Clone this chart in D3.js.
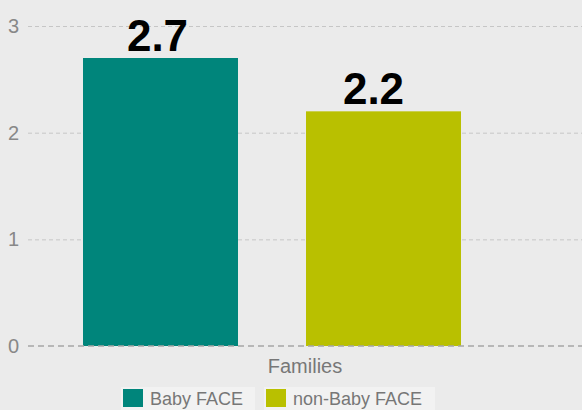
<!DOCTYPE html>
<html lang="en">
<head>
	<meta charset="utf-8">
	<title>Baby FACE vs non-Baby FACE</title>
	<script src="https://d3js.org/d3.v7.min.js"></script>
	<style>
		body { margin: 0; background: #ebebeb; font-family: "Liberation Sans", Arial, sans-serif; }
		.axis-y text { fill: #888; font-size: 20px; }
		.axis-y .domain { display: none; }
		.grid line { stroke: #c6c6c6; stroke-dasharray: 4 3; }
		.value-label { font-weight: bold; font-size: 44px; fill: #000; }
		.cat-label { fill: #777; font-size: 20px; }
		.legend text { fill: #777; font-size: 18px; }
	</style>
</head>
<body>
	<div id="chart"></div>
	<script>
		// Data
		const categories = ["Families"];
		const series = ["Baby FACE", "non-Baby FACE"];
		const values = [2.7, 2.2];
		const colors = ["#00857b", "#b9c000"];
		const yTicks = [0, 1, 2, 3];

		// Dimensions
		const width = 582;
		const height = 410;

		const svg = d3.select("#chart")
			.append("svg")
			.attr("width", width)
			.attr("height", height);

		svg.append("rect")
			.attr("width", width)
			.attr("height", height)
			.attr("fill", "#ebebeb");

		// Scales
		const y = d3.scaleLinear()
			.domain([0, 3])
			.range([346, 26]);

		const x0 = d3.scaleBand()
			.domain(categories)
			.range([28, 582]);

		const x1 = d3.scaleBand()
			.domain(series)
			.range([83, 461])
			.paddingInner(0.305)
			.paddingOuter(0);

		// Grid + y axis
		const grid = svg.append("g")
			.attr("class", "axis-y grid")
			.attr("transform", "translate(28,0)")
			.call(d3.axisLeft(y).tickValues(yTicks).tickFormat(d3.format("d")).tickSize(-(width - 28)).tickPadding(9));

		grid.selectAll(".tick line")
			.filter(d => d === 0)
			.remove();

		// Bars
		svg.selectAll(".bar")
			.data(values)
			.join("rect")
			.attr("class", "bar")
			.attr("x", (d, i) => x1(series[i]))
			.attr("y", d => y(d))
			.attr("width", x1.bandwidth())
			.attr("height", d => y(0) - y(d))
			.attr("fill", (d, i) => colors[i]);

		// Zero line on top of bars
		svg.append("line")
			.attr("x1", 28)
			.attr("x2", width)
			.attr("y1", y(0))
			.attr("y2", y(0))
			.attr("stroke", "#a6a6a6")
			.attr("stroke-width", 1.5)
			.attr("stroke-dasharray", "6 4");

		// Value labels
		svg.selectAll(".value-label")
			.data(values)
			.join("text")
			.attr("class", "value-label")
			.attr("x", (d, i) => x1(series[i]) + x1.bandwidth() / 2 - 3 - 7 * i)
			.attr("y", d => y(d) - 7)
			.attr("text-anchor", "middle")
			.text(d => d.toFixed(1));

		// Category label
		svg.selectAll(".cat-label")
			.data(categories)
			.join("text")
			.attr("class", "cat-label")
			.attr("x", d => x0(d) + x0.bandwidth() / 2)
			.attr("y", 373)
			.attr("text-anchor", "middle")
			.text(d => d);

		// Legend
		const legendX = [121, 264];
		const legendW = [134, 171];
		const legend = svg.append("g").attr("class", "legend");

		series.forEach((s, i) => {
			const g = legend.append("g")
				.attr("transform", `translate(${legendX[i]},387)`);
			g.append("rect")
				.attr("width", legendW[i])
				.attr("height", 30)
				.attr("fill", "#f2f2f2");
			g.append("rect")
				.attr("x", 2)
				.attr("y", 2)
				.attr("width", 20)
				.attr("height", 18)
				.attr("fill", colors[i]);
			g.append("text")
				.attr("x", 29)
				.attr("y", 18)
				.text(s);
		});
	</script>
</body>
</html>
